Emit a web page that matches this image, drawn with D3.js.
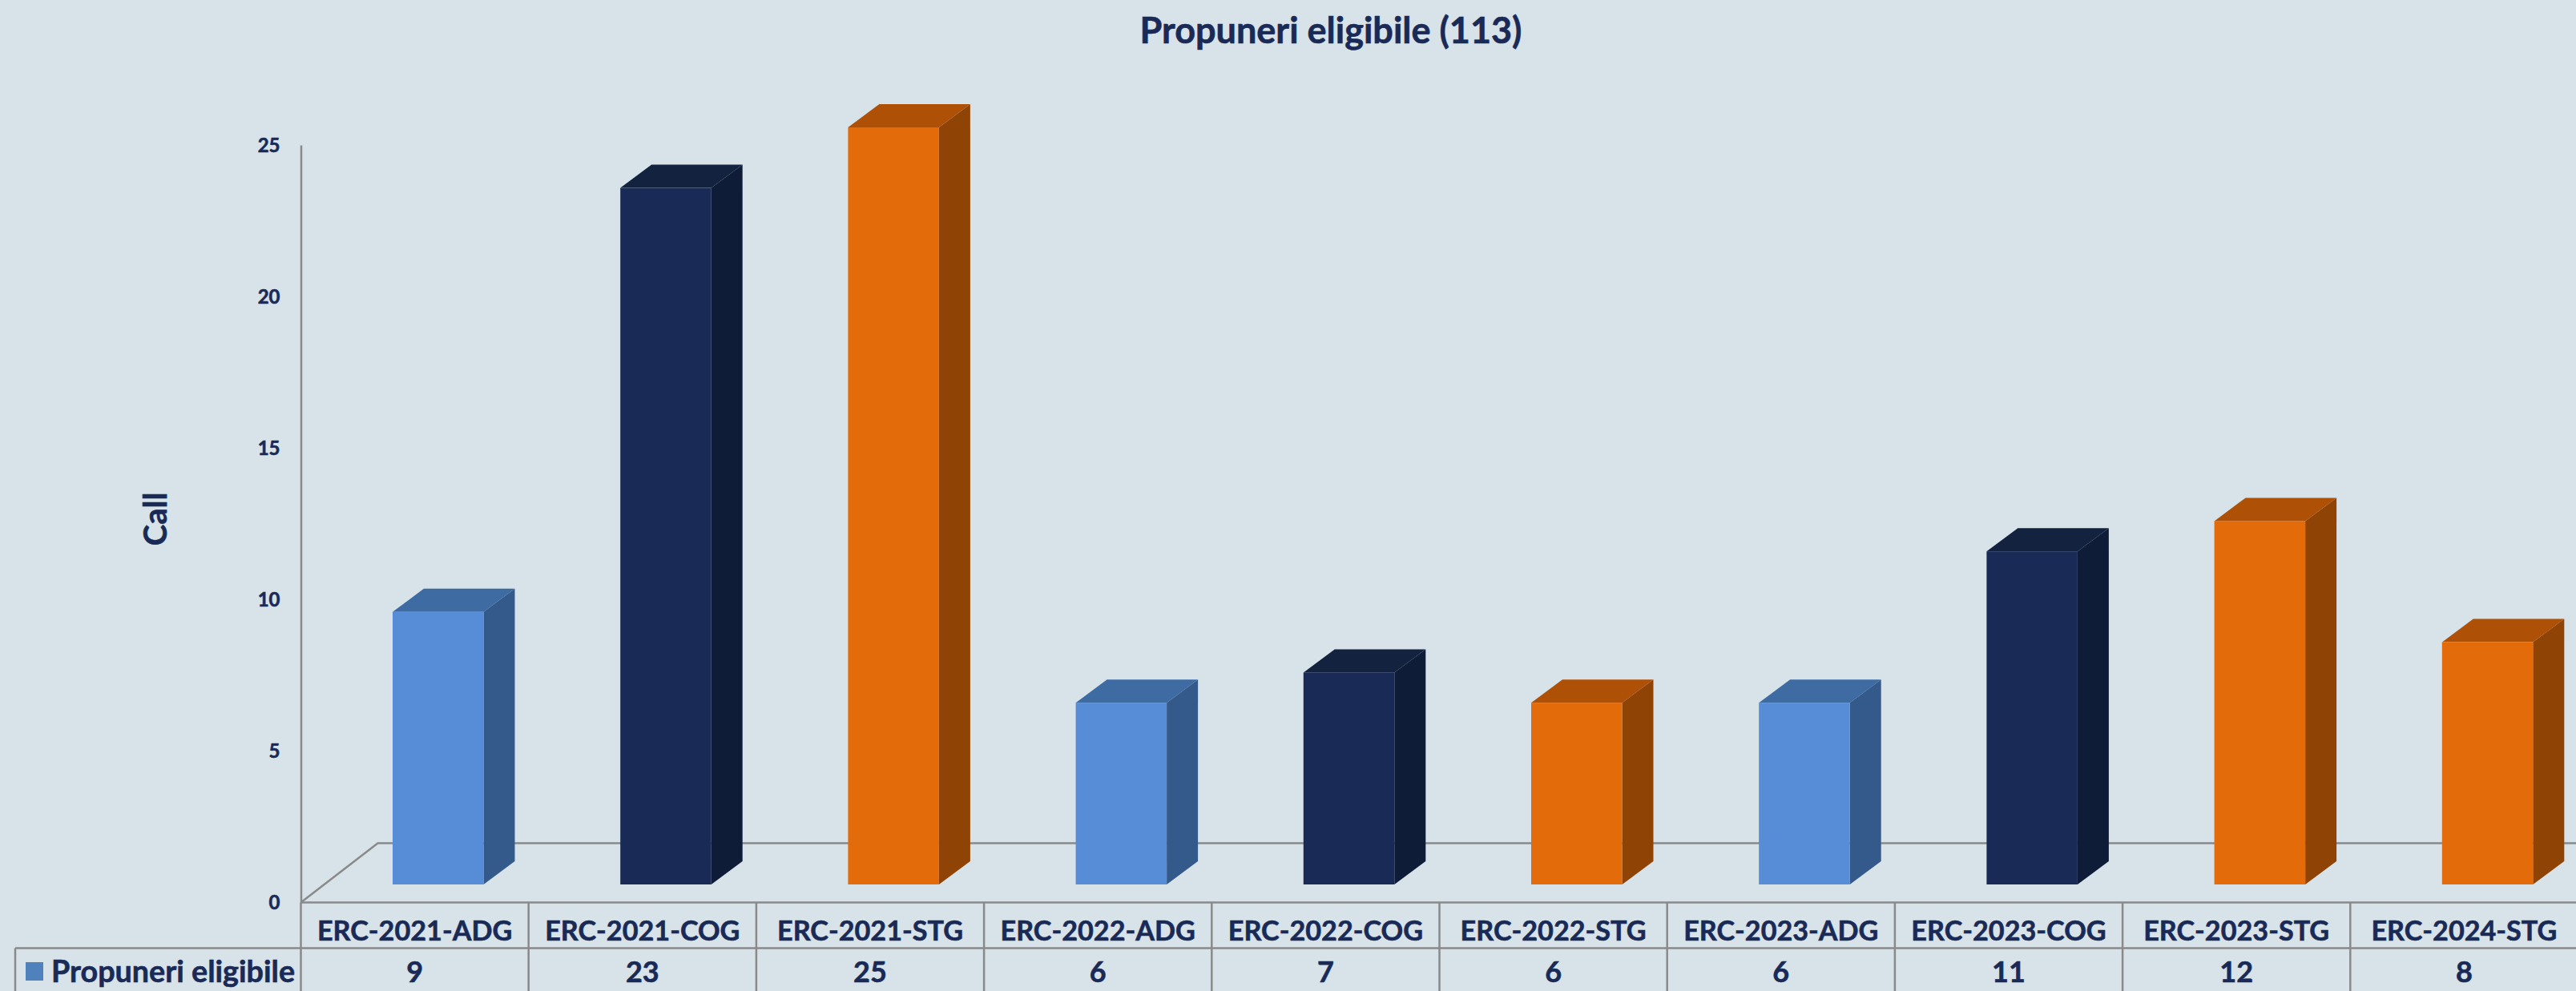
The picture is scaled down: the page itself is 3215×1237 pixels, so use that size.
<!DOCTYPE html>
<html>
<head>
<meta charset="utf-8">
<script src="https://cdn.jsdelivr.net/npm/d3@7/dist/d3.min.js"></script>
<style>
html,body{margin:0;padding:0;background:#d7e2e9;overflow:hidden;height:1237px}
svg{display:block}
text{font-family:Lato,"Open Sans",sans-serif;font-weight:700;fill:#192a56;stroke:#192a56;stroke-width:0.6px}
</style>
</head>
<body>
<svg id="c" width="3215" height="1237"></svg>
<script>
const categories = ["ERC-2021-ADG","ERC-2021-COG","ERC-2021-STG","ERC-2022-ADG","ERC-2022-COG","ERC-2022-STG","ERC-2023-ADG","ERC-2023-COG","ERC-2023-STG","ERC-2024-STG"];
const values = [9,23,25,6,7,6,6,11,12,8];
const yTicks = [0,5,10,15,20,25];
const seriesName = "Propuneri eligibile";
const titleText = "Propuneri eligibile (113)";
const axisTitle = "Call";
const families = ["ADG","COG","STG"];
const frontColors = ["#578cd6","#192a56","#e46b0a"];
const topColors = ["#3f6ba3","#13233f","#ae5106"];
const sideColors = ["#335a8a","#0f1c38","#8f4304"];
const gridColor = "#8a8a8a";

const svg = d3.select("#c");
const axisX = 375.5, axisBase = 1126.5, axisTop = 181, tableMid = 1183.5, tableBottom = 1240, tableLeft = 19;
const depthX = 39, depthY = 29, floorX = 96, floorY = 74;

const x = d3.scaleBand().domain(categories).range([axisX, axisX + 2842]);
const yAxisScale = d3.scaleLinear().domain([0,25]).range([axisBase, axisTop]);
const yBar = d3.scaleLinear().domain([0,25]).range([1104, 159]);
const kind = c => c.split("-")[2];
const front = d3.scaleOrdinal().domain(families).range(frontColors);
const top_ = d3.scaleOrdinal().domain(families).range(topColors);
const side = d3.scaleOrdinal().domain(families).range(sideColors);

svg.append("rect").attr("width",3215).attr("height",1237).attr("fill","#d7e2e9");

svg.append("text").attr("x",1661).attr("y",54).attr("text-anchor","middle")
  .attr("font-size",45).text(titleText);

// floor
svg.append("path").attr("fill","none").attr("stroke",gridColor).attr("stroke-width",2.5)
  .attr("d",`M${axisX},${axisBase}L${axisX+floorX},${axisBase-floorY}H3215`);

// y axis
const yAxis = d3.axisLeft(yAxisScale).tickValues(yTicks).tickSize(0).tickPadding(26);
const gy = svg.append("g").attr("transform",`translate(${axisX},0)`).call(yAxis);
gy.select(".domain").attr("stroke",gridColor).attr("stroke-width",2.5);
gy.selectAll("text").attr("font-size",24).attr("dy","0.34em")
  .style("font-family","Lato").style("font-weight",700).attr("fill","#192a56");

svg.append("text").attr("transform","translate(208,648) rotate(-90)")
  .attr("text-anchor","middle").attr("font-size",40).text(axisTitle);

// bars
const bw = 113.5;
const bars = svg.append("g").selectAll("g").data(categories.map((c,i)=>({c,v:values[i]}))).join("g");
const bl = d => x(d.c) + 114.5;
bars.append("path").attr("fill",d=>side(kind(d.c))).attr("d",d=>{
  const l=bl(d)+bw,t=yBar(d.v),b=yBar(0);
  return `M${l},${t}L${l+depthX},${t-depthY}V${b-depthY}L${l},${b}Z`;
});
bars.append("path").attr("fill",d=>top_(kind(d.c))).attr("d",d=>{
  const l=bl(d),t=yBar(d.v);
  return `M${l},${t}L${l+depthX},${t-depthY}H${l+bw+depthX}L${l+bw},${t}Z`;
});
bars.append("rect").attr("x",bl).attr("y",d=>yBar(d.v)).attr("width",bw)
  .attr("height",d=>yBar(0)-yBar(d.v)).attr("fill",d=>front(kind(d.c)));

// data table
const lines = svg.append("g").attr("stroke",gridColor).attr("stroke-width",2.5).attr("fill","none");
lines.append("line").attr("x1",axisX).attr("x2",3215).attr("y1",axisBase).attr("y2",axisBase);
lines.append("line").attr("x1",tableLeft).attr("x2",3215).attr("y1",tableMid).attr("y2",tableMid);
lines.append("line").attr("x1",tableLeft).attr("x2",tableLeft).attr("y1",tableMid).attr("y2",tableBottom);
lines.selectAll("line.v").data(categories).join("line").attr("class","v")
  .attr("x1",d=>x(d)).attr("x2",d=>x(d)).attr("y1",axisBase).attr("y2",tableBottom);

svg.append("g").selectAll("text").data(categories).join("text")
  .attr("x",d=>x(d)+x.bandwidth()/2).attr("y",1174).attr("text-anchor","middle")
  .attr("font-size",34.2).text(d=>d);
svg.append("g").selectAll("text").data(values).join("text")
  .attr("x",(d,i)=>x(categories[i])+x.bandwidth()/2).attr("y",1226).attr("text-anchor","middle")
  .attr("font-size",36).text(d=>d);

svg.append("rect").attr("x",32).attr("y",1201).attr("width",22).attr("height",23).attr("fill","#4f81bd");
svg.append("text").attr("x",64).attr("y",1226).attr("font-size",37.7).text(seriesName);
</script>
</body>
</html>
